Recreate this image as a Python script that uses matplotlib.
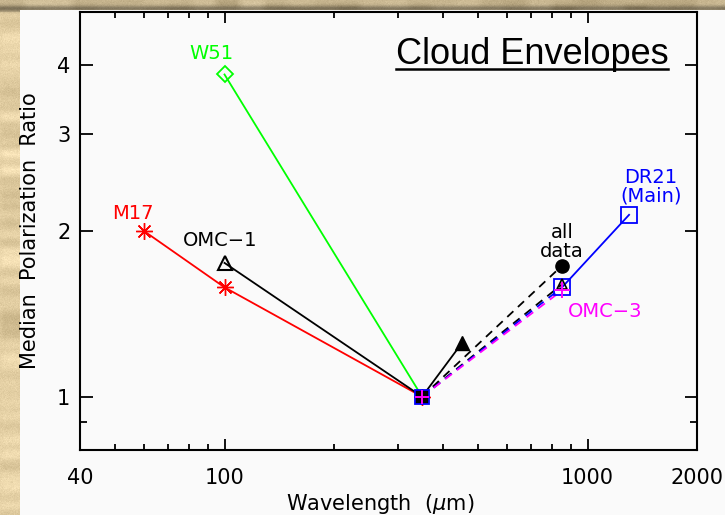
import numpy as np
import matplotlib
matplotlib.use("Agg")
import matplotlib.pyplot as plt
from matplotlib.patches import Rectangle
from matplotlib.lines import Line2D
from matplotlib.ticker import FixedLocator, FixedFormatter, NullFormatter

# ---- data -------------------------------------------------------------
m17_wl = [60, 100, 350]
m17_ratio = [2.0, 1.58, 1.0]

w51_wl = [100, 350]
w51_ratio = [3.85, 1.0]

omc1_wl = [100, 350, 450]
omc1_ratio = [1.75, 1.0, 1.25]
omc1_smm_wl = [350, 850]
omc1_smm_ratio = [1.0, 1.60]

alldata_wl = [350, 850]
alldata_ratio = [1.0, 1.73]

dr21_wl = [350, 850, 1300]
dr21_ratio = [1.0, 1.58, 2.14]

omc3_wl = [350, 850]
omc3_ratio = [1.0, 1.56]

x_tick_vals = [40, 100, 1000, 2000]
x_tick_text = ["40", "100", "1000", "2000"]
y_tick_vals = [1, 2, 3, 4]
y_tick_text = ["1", "2", "3", "4"]

GREEN = "#00ff00"
RED = "#ff0000"
BLUE = "#0000ff"
MAGENTA = "#ff00ff"

plt.rcParams["font.family"] = ["DejaVu Sans"]
plt.rcParams["lines.scale_dashes"] = False

W, H = 725, 515
fig = plt.figure(figsize=(W / 100, H / 100), dpi=100)

# ---- parchment backdrop ----------------------------------------------
rng = np.random.default_rng(11)
coarse = rng.normal(size=(H // 6 + 2, W // 24 + 2))
up = np.kron(coarse, np.ones((6, 24)))[:H, :W]
k = np.ones(9) / 9
up = np.apply_along_axis(lambda r: np.convolve(r, k, mode="same"), 1, up)
up = np.apply_along_axis(lambda c: np.convolve(c, k, mode="same"), 0, up)
fine = rng.normal(size=(H, W))
base = np.array([0.89, 0.81, 0.64])
tex = base[None, None, :] + 0.06 * up[..., None] + 0.015 * fine[..., None]
rows = np.arange(H)[:, None]
shade = np.clip(1 - 0.35 * np.exp(-((rows - 8) / 3.0) ** 2), 0, 1)
tex = tex * shade[..., None]
tex[:12] *= 0.88
tex = np.clip(tex, 0, 1)
fig.figimage((tex * 255).astype(np.uint8), xo=0, yo=0, origin="upper", zorder=0)

panel = Rectangle((20 / W, 0), 1 - 20 / W, (H - 10) / H, transform=fig.transFigure,
                  facecolor="#fafafa", edgecolor="none", zorder=1)
fig.add_artist(panel)

# ---- axes -------------------------------------------------------------
ax = fig.add_axes([80 / W, 1 - 450 / H, 617 / W, 438 / H])
ax.set_zorder(2)
ax.set_facecolor("none")
ax.set_xscale("log")
ax.set_yscale("log")
ax.set_xlim(40, 2000)
ax.set_ylim(0.8, 5)

for s in ax.spines.values():
    s.set_linewidth(1.5)

ax.xaxis.set_major_locator(FixedLocator(x_tick_vals))
ax.xaxis.set_major_formatter(FixedFormatter(x_tick_text))
ax.xaxis.set_minor_locator(FixedLocator([50, 60, 70, 80, 90, 200, 300, 400, 500,
                                         600, 700, 800, 900]))
ax.xaxis.set_minor_formatter(NullFormatter())
ax.yaxis.set_major_locator(FixedLocator(y_tick_vals))
ax.yaxis.set_major_formatter(FixedFormatter(y_tick_text))
ax.yaxis.set_minor_locator(FixedLocator([0.9]))
ax.yaxis.set_minor_formatter(NullFormatter())

ax.tick_params(which="both", direction="in", top=True, right=True, width=1.3,
               labelsize=15)
ax.tick_params(axis="y", which="major", length=9, pad=7)
ax.tick_params(axis="y", which="minor", length=5)
ax.tick_params(axis="x", which="major", length=8, pad=13)
ax.tick_params(axis="x", which="minor", length=4)

ax.set_xlabel(r"Wavelength  ($\mu$m)", fontsize=15, va="center")
ax.xaxis.set_label_coords((380 - 80) / 617, (450 - 504) / 438)
ax.set_ylabel("Median  Polarization  Ratio", fontsize=15, va="center")
ax.yaxis.set_label_coords((30 - 80) / 617, 0.5)

lw = 1.3
dash = (6, 4.5)

# W51
ax.plot(w51_wl, w51_ratio, color=GREEN, lw=lw)
ax.plot(w51_wl[:1], w51_ratio[:1], ls="none", marker="D", ms=8, mfc="none",
        mec=GREEN, mew=1.3)

# M17
ax.plot(m17_wl, m17_ratio, color=RED, lw=lw, marker=(8, 2, 0), ms=12, mew=1.0,
        mec=RED)

# OMC-1
ax.plot(omc1_wl[:2], omc1_ratio[:2], color="k", lw=lw)
ax.plot(omc1_wl[1:], omc1_ratio[1:], color="k", lw=lw)
ax.plot(omc1_wl[:1], omc1_ratio[:1], ls="none", marker="^", ms=10, mfc="none",
        mec="k", mew=1.5)
ax.plot(omc1_wl[2:], omc1_ratio[2:], ls="none", marker="^", ms=10, mfc="k", mec="k")

# all data
ax.plot(alldata_wl, alldata_ratio, color="k", lw=lw, dashes=dash)
ax.plot(alldata_wl[1:], alldata_ratio[1:], ls="none", marker="o", ms=9.5,
        mfc="k", mec="k")

# submm legs sharing the 350 um reference point
ax.plot(omc1_smm_wl, omc1_smm_ratio, color="k", lw=lw, dashes=dash)
ax.plot(dr21_wl[:2], dr21_ratio[:2], color=BLUE, lw=lw, dashes=dash)
ax.plot(omc3_wl, omc3_ratio, color=MAGENTA, lw=lw, dashes=dash)

# DR21 (Main)
ax.plot(dr21_wl[1:], dr21_ratio[1:], color=BLUE, lw=lw)
ax.plot(dr21_wl[1:], dr21_ratio[1:], ls="none", marker="s", ms=11, mfc="none",
        mec=BLUE, mew=1.3)
ax.plot(omc1_smm_wl[1:], omc1_smm_ratio[1:], ls="none", marker="^", ms=7,
        mfc="none", mec="k", mew=1.2)
ax.plot(omc3_wl[1:], omc3_ratio[1:], ls="none", marker="+", ms=11, mec=MAGENTA,
        mew=1.4)

# common reference point at 350 um
ax.plot(dr21_wl[:1], dr21_ratio[:1], ls="none", marker="s", ms=10, mfc="k",
        mec=BLUE, mew=1.3)
ax.plot(omc3_wl[:1], omc3_ratio[:1], ls="none", marker="+", ms=10, mec=MAGENTA,
        mew=1.4)

# source labels
lab = dict(fontsize=14, ha="center", va="center")
ax.text(92, 4.21, "W51", color=GREEN, **lab)
ax.text(56, 2.15, "M17", color=RED, **lab)
ax.text(97.5, 1.92, "OMC\u22121", color="k", **lab)
ax.text(850, 1.91, "all\ndata", color="k", linespacing=0.95, **lab)
ax.text(1493, 2.41, "DR21\n(Main)", color=BLUE, linespacing=0.95, **lab)
ax.text(1114, 1.43, "OMC\u22123", color=MAGENTA, **lab)

title = ax.text((532 - 80) / 617, (450 - 64) / 438, "Cloud Envelopes",
                transform=ax.transAxes, ha="center", va="baseline",
                fontsize=26, family=["Liberation Sans", "DejaVu Sans"])
fig.canvas.draw()
bb = title.get_window_extent(fig.canvas.get_renderer()).transformed(
    ax.transAxes.inverted())
ax.add_line(Line2D([bb.x0, bb.x1], [(450 - 69) / 438] * 2, transform=ax.transAxes,
                   color="k", lw=1.8, clip_on=False))

fig.savefig("out.png", dpi=100)
